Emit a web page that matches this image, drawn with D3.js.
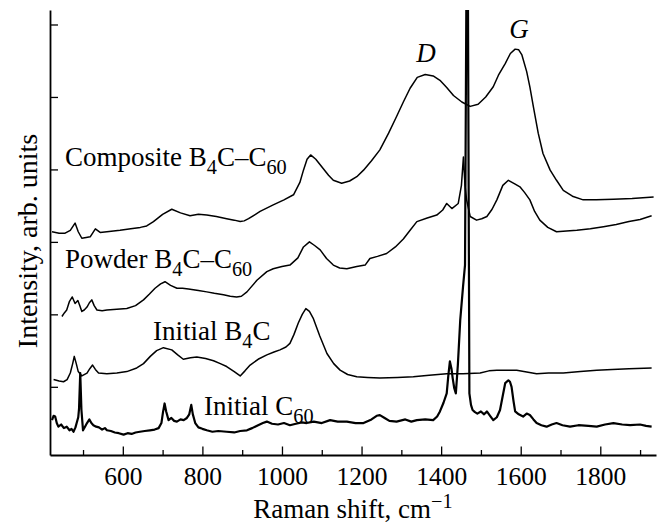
<!DOCTYPE html>
<html><head><meta charset="utf-8">
<script src="https://cdn.jsdelivr.net/npm/d3@7"></script>
<style>
body{margin:0;background:#fff}
text{font-family:"Liberation Serif","Times New Roman",serif;fill:#000}
</style>
</head><body>
<svg id="chart" width="658" height="528"></svg>
<script>
// ---- data (Raman shift cm-1, intensity arb. units) ----
const majorTicks = [600, 800, 1000, 1200, 1400, 1600, 1800];
const minorTicks = [500, 700, 900, 1100, 1300, 1500, 1700, 1900];
const yTicks = [1, 2, 3, 4, 5, 6];

const composite = [[422,3.14],[440,3.12],[455,3.12],[468,3.16],[480,3.26],[488,3.14],[497,3.05],[508,3.06],[518,3.07],[531,3.18],[543,3.13],[560,3.14],[593,3.16],[620,3.18],[644,3.20],[660,3.22],[677,3.28],[700,3.38],[723,3.45],[745,3.40],[769,3.36],[790,3.38],[811,3.37],[835,3.35],[861,3.32],[880,3.30],[895,3.28],[905,3.29],[916,3.32],[945,3.42],[978,3.51],[1005,3.58],[1029,3.65],[1045,3.82],[1054,3.99],[1063,4.14],[1072,4.20],[1085,4.14],[1104,4.01],[1117,3.92],[1129,3.85],[1150,3.81],[1170,3.84],[1188,3.90],[1205,3.99],[1225,4.12],[1246,4.27],[1268,4.50],[1288,4.73],[1305,4.93],[1322,5.12],[1340,5.27],[1360,5.31],[1380,5.29],[1397,5.23],[1414,5.13],[1431,5.02],[1452,4.93],[1473,4.87],[1493,4.90],[1512,5.00],[1531,5.14],[1544,5.30],[1561,5.46],[1574,5.60],[1586,5.66],[1595,5.65],[1603,5.58],[1615,5.35],[1623,5.14],[1632,4.86],[1644,4.50],[1656,4.22],[1674,3.99],[1690,3.85],[1707,3.71],[1730,3.63],[1757,3.58],[1790,3.58],[1833,3.59],[1880,3.60],[1934,3.62]];

const powder = [[447,1.97],[453,2.02],[459,2.06],[466,2.18],[473,2.24],[480,2.15],[487,2.19],[492,2.12],[497,2.04],[503,2.06],[510,2.10],[516,2.16],[522,2.20],[528,2.12],[535,2.06],[548,2.05],[560,2.06],[585,2.07],[610,2.08],[632,2.12],[652,2.20],[667,2.28],[681,2.36],[695,2.42],[706,2.45],[720,2.40],[736,2.36],[750,2.36],[765,2.35],[790,2.33],[811,2.31],[830,2.29],[853,2.27],[870,2.25],[886,2.24],[898,2.25],[912,2.31],[937,2.47],[962,2.59],[978,2.63],[1000,2.66],[1020,2.68],[1040,2.78],[1054,2.93],[1069,3.00],[1082,2.95],[1096,2.89],[1112,2.77],[1129,2.68],[1145,2.64],[1163,2.63],[1188,2.66],[1209,2.68],[1221,2.77],[1240,2.80],[1263,2.84],[1285,2.93],[1305,3.04],[1322,3.16],[1339,3.28],[1365,3.33],[1389,3.37],[1404,3.44],[1414,3.53],[1427,3.46],[1443,3.53],[1451,3.78],[1456,4.17],[1460,3.78],[1464,3.58],[1473,3.35],[1489,3.30],[1502,3.32],[1515,3.35],[1528,3.45],[1540,3.58],[1555,3.78],[1569,3.85],[1585,3.80],[1598,3.76],[1610,3.68],[1623,3.58],[1635,3.42],[1648,3.30],[1668,3.20],[1690,3.14],[1715,3.15],[1741,3.16],[1775,3.18],[1808,3.21],[1840,3.24],[1872,3.28],[1900,3.31],[1929,3.36]];

const initialB4C = [[426,1.10],[440,1.08],[451,1.07],[460,1.10],[468,1.19],[474,1.32],[478,1.42],[483,1.32],[488,1.21],[497,1.15],[510,1.19],[517,1.25],[524,1.30],[531,1.24],[539,1.19],[560,1.18],[585,1.19],[610,1.21],[635,1.26],[652,1.32],[669,1.42],[685,1.50],[702,1.54],[723,1.51],[738,1.44],[752,1.38],[770,1.40],[786,1.41],[808,1.39],[828,1.36],[845,1.32],[861,1.28],[880,1.21],[895,1.15],[907,1.22],[920,1.30],[940,1.38],[962,1.44],[980,1.48],[995,1.51],[1010,1.55],[1020,1.60],[1030,1.72],[1041,1.88],[1051,2.00],[1060,2.08],[1069,2.04],[1079,1.94],[1095,1.70],[1113,1.46],[1130,1.32],[1146,1.23],[1165,1.17],[1188,1.14],[1215,1.13],[1246,1.12],[1290,1.13],[1330,1.14],[1370,1.16],[1414,1.18],[1455,1.18],[1498,1.19],[1520,1.22],[1540,1.23],[1590,1.23],[1640,1.18],[1670,1.19],[1707,1.19],[1750,1.21],[1791,1.23],[1830,1.24],[1872,1.25],[1929,1.26]];

const initialC60 = [[422,0.54],[426,0.60],[430,0.59],[434,0.50],[438,0.45],[445,0.48],[452,0.43],[459,0.45],[466,0.40],[471,0.42],[476,0.38],[481,0.44],[484,0.50],[488,0.58],[490,0.70],[493,1.19],[496,0.68],[500,0.40],[505,0.45],[510,0.50],[516,0.55],[521,0.50],[526,0.47],[533,0.45],[540,0.44],[548,0.41],[555,0.43],[560,0.40],[570,0.39],[580,0.37],[590,0.36],[602,0.34],[612,0.36],[622,0.35],[632,0.37],[643,0.38],[655,0.39],[668,0.40],[680,0.41],[690,0.43],[697,0.50],[701,0.65],[705,0.77],[709,0.66],[715,0.54],[722,0.57],[729,0.53],[736,0.52],[745,0.55],[753,0.54],[761,0.57],[767,0.62],[772,0.75],[776,0.62],[782,0.50],[790,0.44],[800,0.42],[811,0.40],[825,0.38],[840,0.39],[861,0.38],[880,0.37],[895,0.39],[912,0.40],[925,0.43],[940,0.47],[952,0.50],[962,0.52],[975,0.49],[990,0.48],[1005,0.50],[1020,0.47],[1035,0.49],[1050,0.51],[1062,0.50],[1080,0.52],[1100,0.50],[1121,0.54],[1140,0.52],[1163,0.52],[1185,0.50],[1205,0.50],[1225,0.55],[1238,0.60],[1246,0.61],[1258,0.57],[1270,0.53],[1288,0.52],[1310,0.55],[1325,0.52],[1339,0.54],[1360,0.55],[1380,0.54],[1390,0.59],[1397,0.66],[1406,0.78],[1414,0.91],[1418,1.15],[1422,1.35],[1426,1.25],[1429,1.12],[1433,0.98],[1437,0.91],[1442,1.30],[1448,1.92],[1455,2.38],[1460,2.68],[1464,7.0],[1467,7.0],[1471,0.91],[1475,0.75],[1479,0.68],[1485,0.65],[1491,0.63],[1500,0.66],[1508,0.62],[1515,0.66],[1523,0.60],[1531,0.54],[1540,0.58],[1548,0.68],[1555,0.88],[1561,1.05],[1569,1.09],[1573,1.07],[1577,1.00],[1582,0.80],[1586,0.66],[1595,0.62],[1606,0.59],[1615,0.63],[1623,0.61],[1632,0.55],[1640,0.50],[1652,0.47],[1665,0.45],[1678,0.48],[1690,0.50],[1705,0.47],[1724,0.45],[1745,0.47],[1770,0.46],[1791,0.45],[1812,0.48],[1833,0.50],[1855,0.48],[1875,0.47],[1900,0.48],[1915,0.46],[1929,0.45]];

// ---- layout ----
const svg = d3.select("#chart");
const W = 658, H = 528;
const m = {left: 50, right: 2, top: 10, bottom: 73};
const x = d3.scaleLinear().domain([417, 1940]).range([m.left, W - m.right]);
const y = d3.scaleLinear().domain([0.059, 6.2]).range([H - m.bottom, m.top]);
const x0 = m.left, yb = H - m.bottom;

svg.append("rect").attr("width", W).attr("height", H).attr("fill", "#fff");

svg.append("clipPath").attr("id", "clip").append("rect")
  .attr("x", x0).attr("y", m.top).attr("width", W - x0).attr("height", yb - m.top);

const line = d3.line().x(d => x(d[0])).y(d => y(d[1]));
const g = svg.append("g").attr("clip-path", "url(#clip)");
const series = [
  {data: composite, w: 1.5},
  {data: powder, w: 1.5},
  {data: initialB4C, w: 1.5},
  {data: initialC60, w: 2.2}
];
series.forEach(s => {
  g.append("path").datum(s.data).attr("d", line)
    .attr("fill", "none").attr("stroke", "#000").attr("stroke-width", s.w)
    .attr("stroke-linejoin", "round");
});

// ---- axes ----
const xAxis = svg.append("g").attr("transform", `translate(0,${yb})`)
  .call(d3.axisBottom(x).tickValues(majorTicks).tickSize(-8.5).tickSizeOuter(0).tickPadding(12).tickFormat(d3.format("d")));
svg.append("g").attr("transform", `translate(0,${yb})`)
  .call(d3.axisBottom(x).tickValues(minorTicks).tickSize(-5).tickSizeOuter(0).tickFormat(""))
  .select(".domain").remove();
const yAxis = svg.append("g").attr("transform", `translate(${x0},0)`)
  .call(d3.axisLeft(y).tickValues(yTicks).tickSize(-8).tickSizeOuter(0).tickFormat(""));

svg.selectAll(".domain").attr("stroke", "#000").attr("stroke-width", 1.8);
svg.selectAll(".tick line").attr("stroke", "#000").attr("stroke-width", 1.3);
xAxis.selectAll(".tick text").attr("font-size", 25.5).attr("font-family", "Liberation Serif").attr("fill", "#000");

// ---- text helpers ----
function rich(xp, yp, parts, size, anchor) {
  const t = svg.append("text").attr("x", xp).attr("y", yp)
    .attr("font-size", size).attr("text-anchor", anchor || "start");
  let shift = 0;
  parts.forEach(p => {
    const [txt, kind] = p;
    const target = kind === "sub" ? 8 : kind === "sup" ? -10 : 0;
    t.append("tspan").attr("dy", target - shift)
      .attr("font-size", kind ? size * 0.75 : size).text(txt);
    shift = target;
  });
  return t;
}

rich(65, 166, [["Composite B"], ["4", "sub"], ["C–C"], ["60", "sub"]], 27);
rich(65, 268, [["Powder B"], ["4", "sub"], ["C–C"], ["60", "sub"]], 27);
rich(153, 340, [["Initial B"], ["4", "sub"], ["C"]], 27);
rich(204, 415, [["Initial C"], ["60", "sub"]], 27);

svg.append("text").attr("x", 426).attr("y", 62).attr("font-size", 27)
  .attr("font-style", "italic").attr("text-anchor", "middle").text("D");
svg.append("text").attr("x", 519).attr("y", 38).attr("font-size", 27)
  .attr("font-style", "italic").attr("text-anchor", "middle").text("G");

rich(353, 518, [["Raman shift, cm"], ["−1", "sup"]], 27, "middle");

svg.append("text").attr("transform", "translate(37,241) rotate(-90)")
  .attr("font-size", 28).attr("text-anchor", "middle").text("Intensity, arb. units");
</script>
</body></html>
